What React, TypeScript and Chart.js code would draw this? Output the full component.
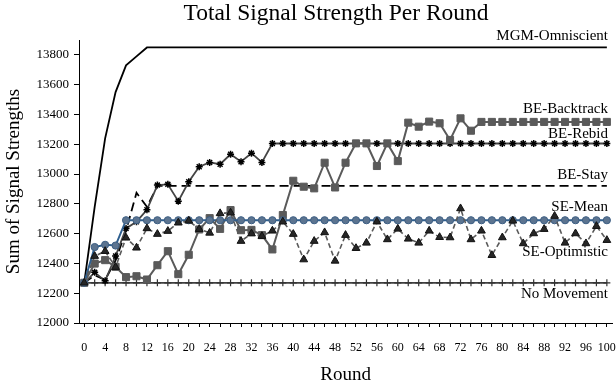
import React, { useEffect, useRef } from "react";
import { Chart, registerables } from "chart.js";

Chart.register(...registerables);

const titleText = "Total Signal Strength Per Round";
const xTitle = "Round";
const yTitle = "Sum of Signal Strengths";

const rounds = [0, 2, 4, 6, 8, 10, 12, 14, 16, 18, 20, 22, 24, 26, 28, 30, 32, 34, 36, 38, 40, 42, 44, 46, 48, 50, 52, 54, 56, 58, 60, 62, 64, 66, 68, 70, 72, 74, 76, 78, 80, 82, 84, 86, 88, 90, 92, 94, 96, 98, 100];
const yTicks = [12000, 12200, 12400, 12600, 12800, 13000, 13200, 13400, 13600, 13800];

const mgmOmniscient = [12270, 12780, 13240, 13550, 13730, 13790, 13850, 13850, 13850, 13850, 13850, 13850, 13850, 13850, 13850, 13850, 13850, 13850, 13850, 13850, 13850, 13850, 13850, 13850, 13850, 13850, 13850, 13850, 13850, 13850, 13850, 13850, 13850, 13850, 13850, 13850, 13850, 13850, 13850, 13850, 13850, 13850, 13850, 13850, 13850, 13850, 13850, 13850, 13850, 13850, 13850];
const beBacktrack = [12270, 12399, 12422, 12377, 12308, 12314, 12292, 12388, 12482, 12328, 12458, 12628, 12704, 12632, 12758, 12623, 12625, 12590, 12494, 12725, 12955, 12915, 12904, 13076, 12910, 13076, 13206, 13206, 13054, 13206, 13087, 13345, 13318, 13352, 13341, 13229, 13374, 13291, 13350, 13350, 13350, 13350, 13350, 13350, 13350, 13350, 13350, 13350, 13350, 13350, 13350];
const beRebid = [12270, 12340, 12283, 12450, 12635, 12680, 12760, 12926, 12931, 12818, 12948, 13049, 13078, 13066, 13133, 13083, 13140, 13078, 13205, 13205, 13205, 13205, 13205, 13205, 13205, 13205, 13205, 13205, 13205, 13205, 13205, 13205, 13205, 13205, 13205, 13205, 13205, 13205, 13205, 13205, 13205, 13205, 13205, 13205, 13205, 13205, 13205, 13205, 13205, 13205, 13205];
const beStay = [12270, 12320, 12290, 12420, 12620, 12874, 12780, 12920, 12920, 12920, 12920, 12920, 12920, 12920, 12920, 12920, 12920, 12920, 12920, 12920, 12920, 12920, 12920, 12920, 12920, 12920, 12920, 12920, 12920, 12920, 12920, 12920, 12920, 12920, 12920, 12920, 12920, 12920, 12920, 12920, 12920, 12920, 12920, 12920, 12920, 12920, 12920, 12920, 12920, 12920, 12920];
const seMean = [12270, 12510, 12525, 12520, 12690, 12690, 12690, 12690, 12690, 12690, 12690, 12690, 12690, 12690, 12690, 12690, 12690, 12690, 12690, 12690, 12690, 12690, 12690, 12690, 12690, 12690, 12690, 12690, 12690, 12690, 12690, 12690, 12690, 12690, 12690, 12690, 12690, 12690, 12690, 12690, 12690, 12690, 12690, 12690, 12690, 12690, 12690, 12690, 12690, 12690, 12690];
const seOptimistic = [12270, 12449, 12482, 12375, 12572, 12505, 12635, 12597, 12617, 12673, 12686, 12630, 12605, 12736, 12740, 12550, 12600, 12583, 12619, 12680, 12597, 12426, 12550, 12608, 12417, 12590, 12502, 12538, 12680, 12561, 12632, 12565, 12538, 12619, 12576, 12574, 12769, 12561, 12619, 12455, 12574, 12686, 12534, 12601, 12630, 12718, 12538, 12601, 12534, 12650, 12556];
const noMovement = [12270, 12270, 12270, 12270, 12270, 12270, 12270, 12270, 12270, 12270, 12270, 12270, 12270, 12270, 12270, 12270, 12270, 12270, 12270, 12270, 12270, 12270, 12270, 12270, 12270, 12270, 12270, 12270, 12270, 12270, 12270, 12270, 12270, 12270, 12270, 12270, 12270, 12270, 12270, 12270, 12270, 12270, 12270, 12270, 12270, 12270, 12270, 12270, 12270, 12270, 12270];

const FONT = "'Liberation Serif', 'Times New Roman', serif";

const pts = (vals: number[]) => rounds.map((r, i) => ({ x: r, y: vals[i] }));

// label vertical offsets (px) from each series' final point
const labelOffsets: Record<string, number> = {
  "SE-Optimistic": 12,
  "SE-Mean": -13,
  "BE-Backtrack": -13,
  "BE-Rebid": -9,
  "BE-Stay": -11,
  "MGM-Omniscient": -11,
  "No Movement": 11,
};

const textPlugin = {
  id: "textPlugin",
  afterDatasetsDraw(chart: any) {
    const ctx = chart.ctx;
    const ys = chart.scales.y;
    ctx.save();
    ctx.fillStyle = "#000";
    ctx.textAlign = "right";
    ctx.textBaseline = "middle";
    ctx.font = `15px ${FONT}`;
    chart.data.datasets.forEach((ds: any) => {
      const last = ds.data[ds.data.length - 1].y;
      const py = ys.getPixelForValue(last) + (labelOffsets[ds.label] || 0);
      ctx.fillText(ds.label, 608, py);
    });
    ctx.font = `23.5px ${FONT}`;
    ctx.textAlign = "center";
    ctx.fillText(titleText, 336, 14);
    ctx.restore();
  },
};

export default function App() {
  const ref = useRef<HTMLCanvasElement>(null);
  useEffect(() => {
    if (!ref.current) return;
    Chart.defaults.font.family = FONT;
    Chart.defaults.color = "#000";
    const chart = new Chart(ref.current, {
      type: "line",
      data: {
        datasets: [
          {
            label: "SE-Optimistic",
            data: pts(seOptimistic),
            borderColor: "#5a5a5a",
            borderWidth: 1.6,
            borderDash: [5, 3],
            pointStyle: "triangle",
            pointRadius: 4.5,
            pointBackgroundColor: "#262626",
            pointBorderColor: "#111",
            pointBorderWidth: 1,
          },
          {
            label: "SE-Mean",
            data: pts(seMean),
            borderColor: "#2f5f8f",
            borderWidth: 2,
            pointStyle: "circle",
            pointRadius: 3.6,
            pointBackgroundColor: "#5c7490",
            pointBorderColor: "#3c5e83",
            pointBorderWidth: 1,
          },
          {
            label: "BE-Backtrack",
            data: pts(beBacktrack),
            borderColor: "#5a5a5a",
            borderWidth: 2,
            pointStyle: "rect",
            pointRadius: 5,
            pointBackgroundColor: "#5a5a5a",
            pointBorderColor: "#5a5a5a",
            pointBorderWidth: 1,
          },
          {
            label: "BE-Rebid",
            data: pts(beRebid),
            borderColor: "#454545",
            borderWidth: 1.8,
            pointStyle: "star",
            pointRadius: 3.5,
            pointBorderColor: "#000",
            pointBorderWidth: 1.5,
          },
          {
            label: "BE-Stay",
            data: pts(beStay),
            borderColor: "#000",
            borderWidth: 1.8,
            borderDash: [9, 5],
            pointRadius: 0,
          },
          {
            label: "MGM-Omniscient",
            data: pts(mgmOmniscient),
            borderColor: "#000",
            borderWidth: 1.8,
            pointRadius: 0,
          },
          {
            label: "No Movement",
            data: pts(noMovement),
            borderColor: "#404040",
            borderWidth: 1.8,
            pointStyle: "cross",
            pointRadius: 3.5,
            pointBorderColor: "#333",
            pointBorderWidth: 1.2,
          },
        ],
      },
      options: {
        responsive: false,
        animation: false,
        events: [],
        layout: { padding: { top: 40, left: 0, right: 14, bottom: 0 } },
        plugins: {
          legend: { display: false },
          tooltip: { enabled: false },
          title: { display: false },
        },
        scales: {
          x: {
            type: "linear",
            min: -1,
            max: 101,
            afterBuildTicks: (s: any) => {
              s.ticks = rounds.map((v) => ({ value: v }));
            },
            afterFit: (s: any) => {
              s.height = 58;
            },
            ticks: {
              autoSkip: false,
              maxRotation: 0,
              minRotation: 0,
              padding: 14,
              font: { size: 12, family: FONT },
              color: "#000",
              callback: (v: any) => (Number(v) % 4 === 0 ? String(v) : ""),
            },
            grid: { drawOnChartArea: false, drawTicks: true, tickLength: 4, color: "#000" },
            border: { color: "#000", width: 1 },
            title: { display: true, text: xTitle, font: { size: 19, family: FONT }, color: "#000", padding: { top: 0, bottom: -5 } },
          },
          y: {
            type: "linear",
            min: 12000,
            max: 13900,
            afterBuildTicks: (s: any) => {
              s.ticks = yTicks.map((v) => ({ value: v }));
            },
            afterFit: (s: any) => {
              s.width = 79;
            },
            ticks: {
              padding: 5,
              font: { size: 13, family: FONT },
              color: "#000",
              callback: (v: any) => String(v),
            },
            grid: { drawOnChartArea: false, drawTicks: true, tickLength: 5, color: "#000" },
            border: { color: "#000", width: 1 },
            title: { display: true, text: yTitle, font: { size: 19, family: FONT }, color: "#000", padding: { top: 3, bottom: 0 } },
          },
        },
      },
      plugins: [textPlugin],
    });
    return () => chart.destroy();
  }, []);
  return (
    <div style={{ position: "fixed", left: 0, top: 0, width: 616, height: 381, overflow: "hidden", background: "#fff" }}>
      <canvas ref={ref} width={630} height={381} style={{ width: 630, height: 381, display: "block" }} />
    </div>
  );
}
